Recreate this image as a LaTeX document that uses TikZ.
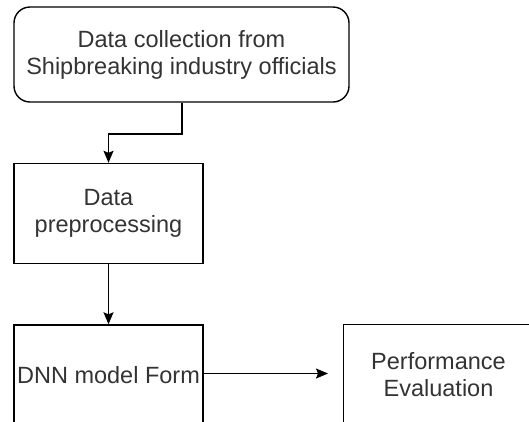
\documentclass[tikz,border=0pt]{standalone}
\usepackage{fontspec}
\setmainfont{Liberation Sans}
\usetikzlibrary{arrows.meta}
\begin{document}
\begin{tikzpicture}[x=1pt,y=-1pt,
  box/.style={draw=black,line width=1.4pt,minimum width=189pt,minimum height=100pt,inner sep=0pt,
    align=center,text=black!80,font=\fontsize{23.5}{27}\selectfont},
  rbox/.style={box,rounded corners=16pt,minimum width=335pt,minimum height=95pt},
  conn/.style={line width=1.4pt,-{Stealth[length=12pt,width=10pt,inset=2pt]}}]
\useasboundingbox (0,0) rectangle (529,421);
\clip (0,0) rectangle (529,421);
\node[rbox] (collect) at (181.5,54.5) {Data collection from\\Shipbreaking industry officials};
\node[box] (prep) at (108.5,213.5) {Data\\preprocessing};
\node[box] (dnn) at (108.5,375) {DNN model Form};
\node[box,draw=none] (perf) at (438.5,375) {Performance\\Evaluation};
\draw[line width=1.4pt] (perf.north west) rectangle ++(200,110);
\draw[conn] (182,0 |- collect.south) -- (182,134) -- (108.5,134) -- (prep.north);
\draw[conn] (prep.south) -- (dnn.north);
\draw[conn] (dnn.east |- 0,373.5) -- (328,373.5);
\end{tikzpicture}
\end{document}
